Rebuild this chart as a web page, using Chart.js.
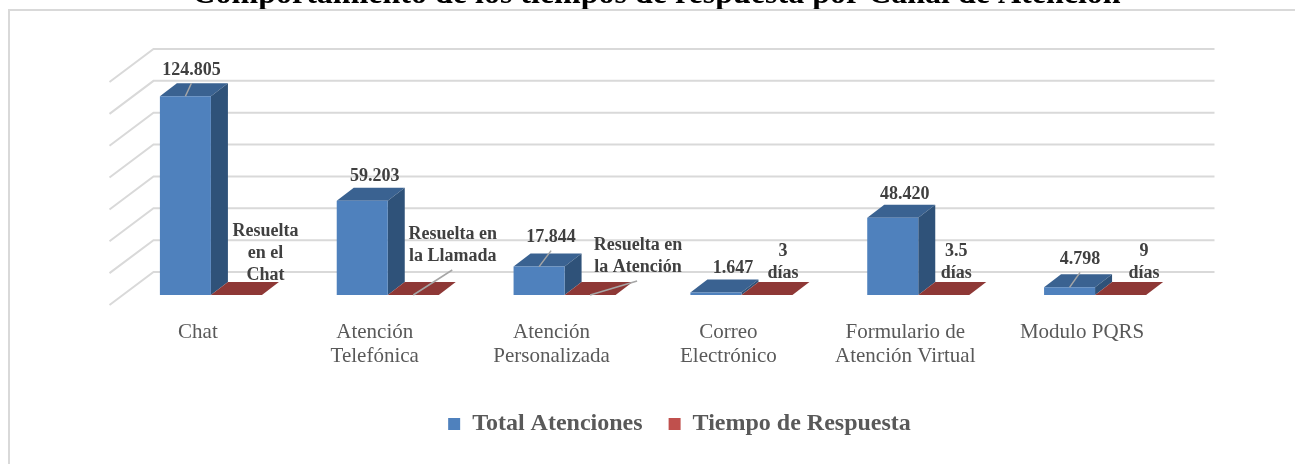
<!DOCTYPE html>
<html>
<head>
<meta charset="utf-8">
<script src="https://cdn.jsdelivr.net/npm/chart.js@4"></script>
<style>
  html, body { margin: 0; padding: 0; background: #fff; overflow: hidden; }
  #wrap { position: absolute; left: 0; top: -30px; width: 1295px; height: 494px; }
  #frame { position: absolute; left: 8px; top: 9px; width: 1295px; height: 470px; border: 2px solid #d9d9d9; pointer-events: none; }
</style>
</head>
<body>
<div id="wrap"><canvas id="chart_content"></canvas></div>
<div id="frame"></div>
<script>
var categories = [
  ["Chat"],
  ["Atención", "Telefónica"],
  ["Atención", "Personalizada"],
  ["Correo", "Electrónico"],
  ["Formulario de", "Atención Virtual"],
  ["Modulo PQRS"],
];
var totalAtenciones = [124805, 59203, 17844, 1647, 48420, 4798];
var tiempoRespuesta = [0, 0, 0, 3, 3.5, 9];
var totalLabels = ["124.805", "59.203", "17.844", "1.647", "48.420", "4.798"];
var tiempoLabels = [
  ["Resuelta", "en el", "Chat"],
  ["Resuelta en", "la Llamada"],
  ["Resuelta en", "la Atención"],
  ["3", "días"],
  ["3.5", "días"],
  ["9", "días"],
];

// where each data label sits, relative to the top middle of its bar
var totalOffsets = [[6, -26], [12.5, -24], [12, -29], [17, -24], [12, -24], [10.5, -28]];
var tiempoOffsets = [[29, -42], [39.5, -50], [48, -39], [16, -33], [12.5, -33], [23.5, -33]];
var totalLeaders = [true, false, true, false, false, true];
var tiempoLeaders = [null, [39, -25], [47, -14], null, null, null];

// 3D look: bar depth, and how far the walls and floor reach from the bar plane
var depth = { x: 17, y: -13 };
var back = { x: 31, y: -23 };
var front = { x: -13, y: 10 };
var gridColor = "#d9d9d9";

function poly(ctx, pts, color) {
  ctx.fillStyle = color;
  ctx.beginPath();
  ctx.moveTo(pts[0][0], pts[0][1]);
  for (var i = 1; i < pts.length; i++) ctx.lineTo(pts[i][0], pts[i][1]);
  ctx.closePath();
  ctx.fill();
}

function drawBox(ctx, bar, topColor, sideColor) {
  var l = bar.x - bar.width / 2;
  var r = bar.x + bar.width / 2;
  var t = bar.y;
  var b = bar.base;
  poly(ctx, [[l, t], [l + depth.x, t + depth.y], [r + depth.x, t + depth.y], [r, t]], topColor);
  if (b - t > 0.5) {
    poly(ctx, [[r, t], [r + depth.x, t + depth.y], [r + depth.x, b + depth.y], [r, b]], sideColor);
  }
}

function drawLabel(ctx, lines, cx, cy, lineHeight) {
  var start = cy - ((lines.length - 1) * lineHeight) / 2;
  for (var i = 0; i < lines.length; i++) {
    ctx.fillText(lines[i], cx, start + i * lineHeight);
  }
}

function leader(ctx, x1, y1, x2, y2) {
  ctx.strokeStyle = "#a6a6a6";
  ctx.lineWidth = 1.5;
  ctx.beginPath();
  ctx.moveTo(x1, y1);
  ctx.lineTo(x2, y2);
  ctx.stroke();
}

var box3d = {
  id: "box3d",
  afterLayout: function (chart) {
    chart.legend.left += 26.5;
    chart.legend.right += 26.5;
    chart.titleBlock.left += 3.5;
    chart.titleBlock.right += 3.5;
  },
  beforeDatasetsDraw: function (chart) {
    var ctx = chart.ctx;
    var y = chart.scales.y;
    var area = chart.chartArea;
    ctx.save();
    ctx.strokeStyle = gridColor;
    ctx.lineWidth = 2;
    y.ticks.forEach(function (tick) {
      var py = y.getPixelForValue(tick.value);
      ctx.beginPath();
      ctx.moveTo(area.left + front.x, py + front.y);
      ctx.lineTo(area.left + back.x, py + back.y);
      ctx.lineTo(area.right + back.x, py + back.y);
      ctx.stroke();
    });
    chart.getDatasetMeta(0).data.forEach(function (bar) {
      drawBox(ctx, bar, "#3a6291", "#2f5279");
    });
    chart.getDatasetMeta(1).data.forEach(function (bar) {
      drawBox(ctx, bar, "#8e3836", "#6f2b2a");
    });
    ctx.restore();
  },
  afterDatasetsDraw: function (chart) {
    var ctx = chart.ctx;
    ctx.save();
    ctx.textAlign = "center";
    ctx.textBaseline = "middle";
    ctx.font = "bold 18px 'Liberation Serif'";
    chart.getDatasetMeta(0).data.forEach(function (bar, i) {
      var o = totalOffsets[i];
      if (totalLeaders[i]) leader(ctx, bar.x, bar.y, bar.x + o[0], bar.y + o[1] + 13);
      ctx.fillStyle = "#404040";
      ctx.fillText(totalLabels[i], bar.x + o[0], bar.y + o[1]);
    });
    chart.getDatasetMeta(1).data.forEach(function (bar, i) {
      var o = tiempoOffsets[i];
      var l = tiempoLeaders[i];
      if (l) leader(ctx, bar.x, bar.base, bar.x + l[0], bar.base + l[1]);
      ctx.fillStyle = "#404040";
      drawLabel(ctx, tiempoLabels[i], bar.x + o[0], bar.base + o[1], 22);
    });
    ctx.restore();
  },
};

var config = {
  type: "bar",
  data: {
    labels: categories,
    datasets: [
      { label: "Total Atenciones", data: totalAtenciones, backgroundColor: "#4f81bd" },
      { label: "Tiempo de Respuesta", data: tiempoRespuesta, backgroundColor: "#c0504d" },
    ],
  },
  plugins: [box3d],
  options: {
    responsive: true,
    maintainAspectRatio: false,
    animation: false,
    layout: { padding: { left: 122.5, right: 111.5, top: 0, bottom: 18 } },
    datasets: { bar: { categoryPercentage: 0.577, barPercentage: 1 } },
    scales: {
      x: {
        grid: { display: false },
        border: { display: false },
        afterFit: function (scale) { scale.height = 91; },
        ticks: {
          color: "#595959",
          font: { family: "'Liberation Serif'", size: 21, lineHeight: 1.16 },
          maxRotation: 0,
          autoSkip: false,
          labelOffset: -13,
          padding: 17,
        },
      },
      y: {
        display: false,
        min: 0,
        max: 140000,
        ticks: { stepSize: 20000 },
      },
    },
    plugins: {
      tooltip: { enabled: false },
      title: {
        display: true,
        text: "Comportamiento de los tiempos de respuesta por Canal de Atención",
        color: "#000",
        font: { family: "'Liberation Serif'", size: 32, weight: "bold" },
        padding: { top: 5.8, bottom: 57.8 },
      },
      legend: {
        position: "bottom",
        labels: {
          color: "#595959",
          boxWidth: 12,
          boxHeight: 12,
          padding: 26,
          font: { family: "'Liberation Serif'", size: 24, weight: "bold" },
        },
      },
    },
  },
};

new Chart(document.getElementById("chart_content"), config);
</script>
</body>
</html>
